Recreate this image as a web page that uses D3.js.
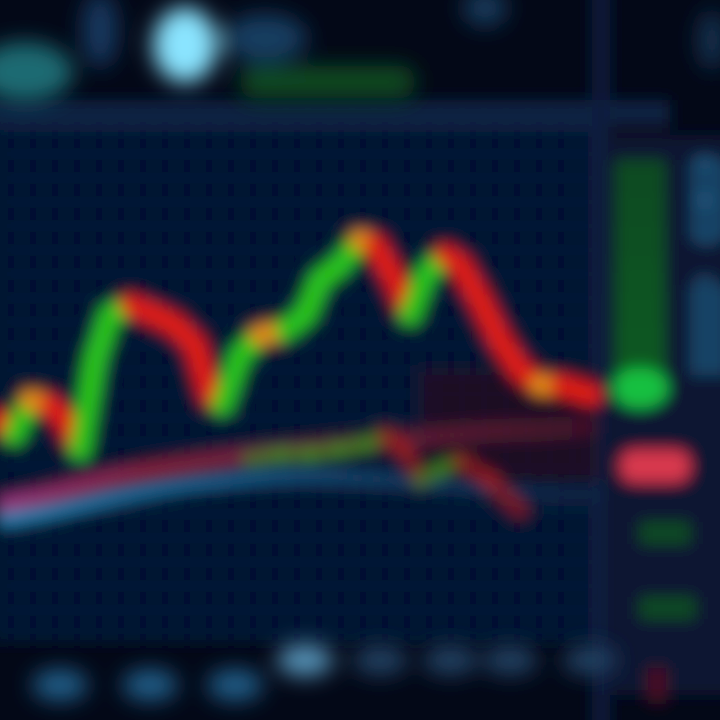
<!DOCTYPE html>
<html><head><meta charset="utf-8">
<script src="https://cdn.jsdelivr.net/npm/d3@7"></script>
<style>html,body{margin:0;padding:0;background:#030816;overflow:hidden}</style>
</head><body>
<svg id="c" width="720" height="720"></svg>
<script>
// ---- data ----
const priceX = [0,14,30,50,65,80,95,110,130,155,175,195,210,222,240,260,285,305,320,340,360,375,395,410,425,445,460,480,500,520,540,560,592];
const price  = [36,33,40,39,36,30,48,57,59,57,55,51,41,39,49,53,54,57,64,67,72,71,64,57,65,69,67,60,52,46,43,43,41];
const maX    = [0,50,100,150,200,250,300,350,400,450,500,550,595];
const maRed  = [19,21,24,26,27.5,29,30,31,32,33,34,34,35];
const maBlue = [16,17.5,20,22,23.5,24.5,25,24.5,24,23,22,21,21];
const subX   = [250,280,310,340,365,385,405,420,440,460,490,520];
const sub    = [28,29,29,30,31,33,30,24,26,28,24,18];
const volY   = [88,42];
const tickX  = [60,150,235,305,380,450,510,590];
const tickLabels = ["09:00","10:00","11:00","12:00","13:00","14:00","15:00","16:00"];
const yTicks = [88,80,72,64];

(function(){
const svg = d3.select("#c");
const x = d3.scaleLinear().domain([0,600]).range([0,600]);
const y = d3.scaleLinear().domain([0,100]).range([600,100]);

const defs = svg.append("defs");
const f = defs.append("filter").attr("id","blur").attr("x","-20%").attr("y","-20%").attr("width","140%").attr("height","140%");
f.append("feGaussianBlur").attr("stdDeviation",7.5);
const f2 = defs.append("filter").attr("id","blur2").attr("x","-50%").attr("y","-50%").attr("width","200%").attr("height","200%");
f2.append("feGaussianBlur").attr("stdDeviation",11);

svg.append("rect").attr("width",720).attr("height",720).attr("fill","#030817");
const g = svg.append("g").attr("filter","url(#blur)");

g.append("rect").attr("x",-20).attr("y",118).attr("width",618).attr("height",525).attr("fill","#050e26");
g.append("rect").attr("x",-20).attr("y",100).attr("width",690).attr("height",26).attr("fill","#112443");
g.append("rect").attr("x",592).attr("y",-20).attr("width",18).attr("height",760).attr("fill","#0e1f3c");
g.append("rect").attr("x",612).attr("y",135).attr("width",120).attr("height",560).attr("fill","#0a1833");

const grid = g.append("g").attr("stroke","#1c3560").attr("stroke-width",3.5).attr("opacity",0.6);
grid.selectAll("line.v").data(d3.range(0,600,22)).join("line").attr("class","v")
  .attr("x1",d=>x(d)).attr("x2",d=>x(d)).attr("y1",125).attr("y2",640);
grid.selectAll("line.h").data(d3.range(130,640,24)).join("line").attr("class","h")
  .attr("y1",d=>d).attr("y2",d=>d).attr("x1",0).attr("x2",595);

g.append("rect").attr("x",x(420)).attr("y",y(46)).attr("width",180).attr("height",y(24)-y(46)).attr("fill","#2e0a20").attr("opacity",0.6);

const lineMa = d3.line().x((d,i)=>x(maX[i])).y(d=>y(d)).curve(d3.curveBasis);
const gradB = defs.append("linearGradient").attr("id","gb").attr("x1","0").attr("x2","1");
gradB.append("stop").attr("offset","0").attr("stop-color","#2a86b8").attr("stop-opacity",0.95);
gradB.append("stop").attr("offset","0.4").attr("stop-color","#1e6a9a").attr("stop-opacity",0.8);
gradB.append("stop").attr("offset","1").attr("stop-color","#163c66").attr("stop-opacity",0.35);
g.append("path").datum(maBlue).attr("d",lineMa).attr("fill","none").attr("stroke","url(#gb)").attr("stroke-width",14);
const gradMa = defs.append("linearGradient").attr("id","gma").attr("x1","0").attr("x2","1");
gradMa.append("stop").attr("offset","0").attr("stop-color","#b03a8a");
gradMa.append("stop").attr("offset","0.25").attr("stop-color","#9a2440");
gradMa.append("stop").attr("offset","0.55").attr("stop-color","#7a2a40");
gradMa.append("stop").attr("offset","1").attr("stop-color","#4a1028");
g.append("path").datum(maRed).attr("d",lineMa).attr("fill","none").attr("stroke","url(#gma)").attr("stroke-width",16).attr("opacity",0.85);

for(let i=0;i<sub.length-1;i++){
  const up = sub[i+1]>=sub[i];
  g.append("line").attr("x1",x(subX[i])).attr("y1",y(sub[i])).attr("x2",x(subX[i+1])).attr("y2",y(sub[i+1]))
   .attr("stroke",up?"#3f8a1c":"#a81c1c").attr("stroke-width",15).attr("stroke-linecap","round").attr("opacity",0.7);
}

for(let i=0;i<price.length-1;i++){
  const d = price[i+1]-price[i];
  const col = d>1 ? "#2cc41e" : (d<-1 ? "#e01e18" : "#e08a18");
  g.append("line").attr("x1",x(priceX[i])).attr("y1",y(price[i])).attr("x2",x(priceX[i+1])).attr("y2",y(price[i+1]))
   .attr("stroke",col).attr("stroke-width",21).attr("stroke-linecap","round");
}

const gradV = defs.append("linearGradient").attr("id","gv").attr("x1","0").attr("x2","0").attr("y1","0").attr("y2","1");
gradV.append("stop").attr("offset","0").attr("stop-color","#0a4a22");
gradV.append("stop").attr("offset","1").attr("stop-color","#0c5a22");
g.append("rect").attr("x",615).attr("y",y(volY[0])).attr("width",50).attr("height",y(volY[1])-y(volY[0])).attr("fill","url(#gv)");
g.append("ellipse").attr("cx",640).attr("cy",y(volY[1])-2).attr("rx",28).attr("ry",20).attr("fill","#14c040");
g.append("rect").attr("x",620).attr("y",450).attr("width",70).attr("height",32).attr("rx",14).attr("fill","#d8384e");
g.append("rect").attr("x",640).attr("y",522).attr("width",50).attr("height",22).attr("fill","#0c4a22");
g.append("rect").attr("x",640).attr("y",597).attr("width",55).attr("height",22).attr("fill","#0c4a22");
g.append("rect").attr("x",690).attr("y",160).attr("width",40).attr("height",80).attr("fill","#1a4a6e").attr("opacity",0.85);
g.append("rect").attr("x",690).attr("y",285).attr("width",40).attr("height",90).attr("fill","#1a4a6e").attr("opacity",0.85);
g.selectAll("text.yt").data(yTicks).join("text").attr("class","yt").attr("x",705).attr("y",d=>y(d)+5).attr("fill","#3a78a8")
  .attr("font-family","DejaVu Sans").attr("font-size",13).attr("text-anchor","middle").text(d=>d);
g.append("rect").attr("x",648).attr("y",668).attr("width",18).attr("height",36).attr("fill","#4a1020");

const hdr = svg.append("g").attr("filter","url(#blur2)");
hdr.append("ellipse").attr("cx",185).attr("cy",45).attr("rx",32).attr("ry",38).attr("fill","#8ae4ff");
hdr.append("ellipse").attr("cx",25).attr("cy",72).attr("rx",48).attr("ry",30).attr("fill","#1a6a72");
hdr.append("ellipse").attr("cx",100).attr("cy",30).attr("rx",18).attr("ry",38).attr("fill","#14385e");
hdr.append("ellipse").attr("cx",265).attr("cy",38).attr("rx",42).attr("ry",24).attr("fill","#163e60");
hdr.append("rect").attr("x",240).attr("y",66).attr("width",175).attr("height",32).attr("rx",14).attr("fill","#0c4c22");
hdr.append("ellipse").attr("cx",485).attr("cy",8).attr("rx",22).attr("ry",18).attr("fill","#163a5c");
hdr.append("ellipse").attr("cx",712).attr("cy",40).attr("rx",14).attr("ry",30).attr("fill","#123050");

const bot = svg.append("g").attr("filter","url(#blur2)");
bot.selectAll("ellipse").data(tickX).join("ellipse")
  .attr("cx",d=>x(d)).attr("cy",(d,i)=>i<3?685:660).attr("rx",28).attr("ry",16)
  .attr("fill",(d,i)=>i===3?"#5a98bc":(i<3?"#1a5a84":"#1a3452"));
bot.selectAll("text").data(tickX).join("text").attr("x",d=>x(d)).attr("y",(d,i)=>(i<3?690:665))
  .attr("fill","#3a7aa8").attr("font-family","DejaVu Sans").attr("font-size",14).attr("text-anchor","middle")
  .text((d,i)=>tickLabels[i]);
})();
</script>
</body></html>
